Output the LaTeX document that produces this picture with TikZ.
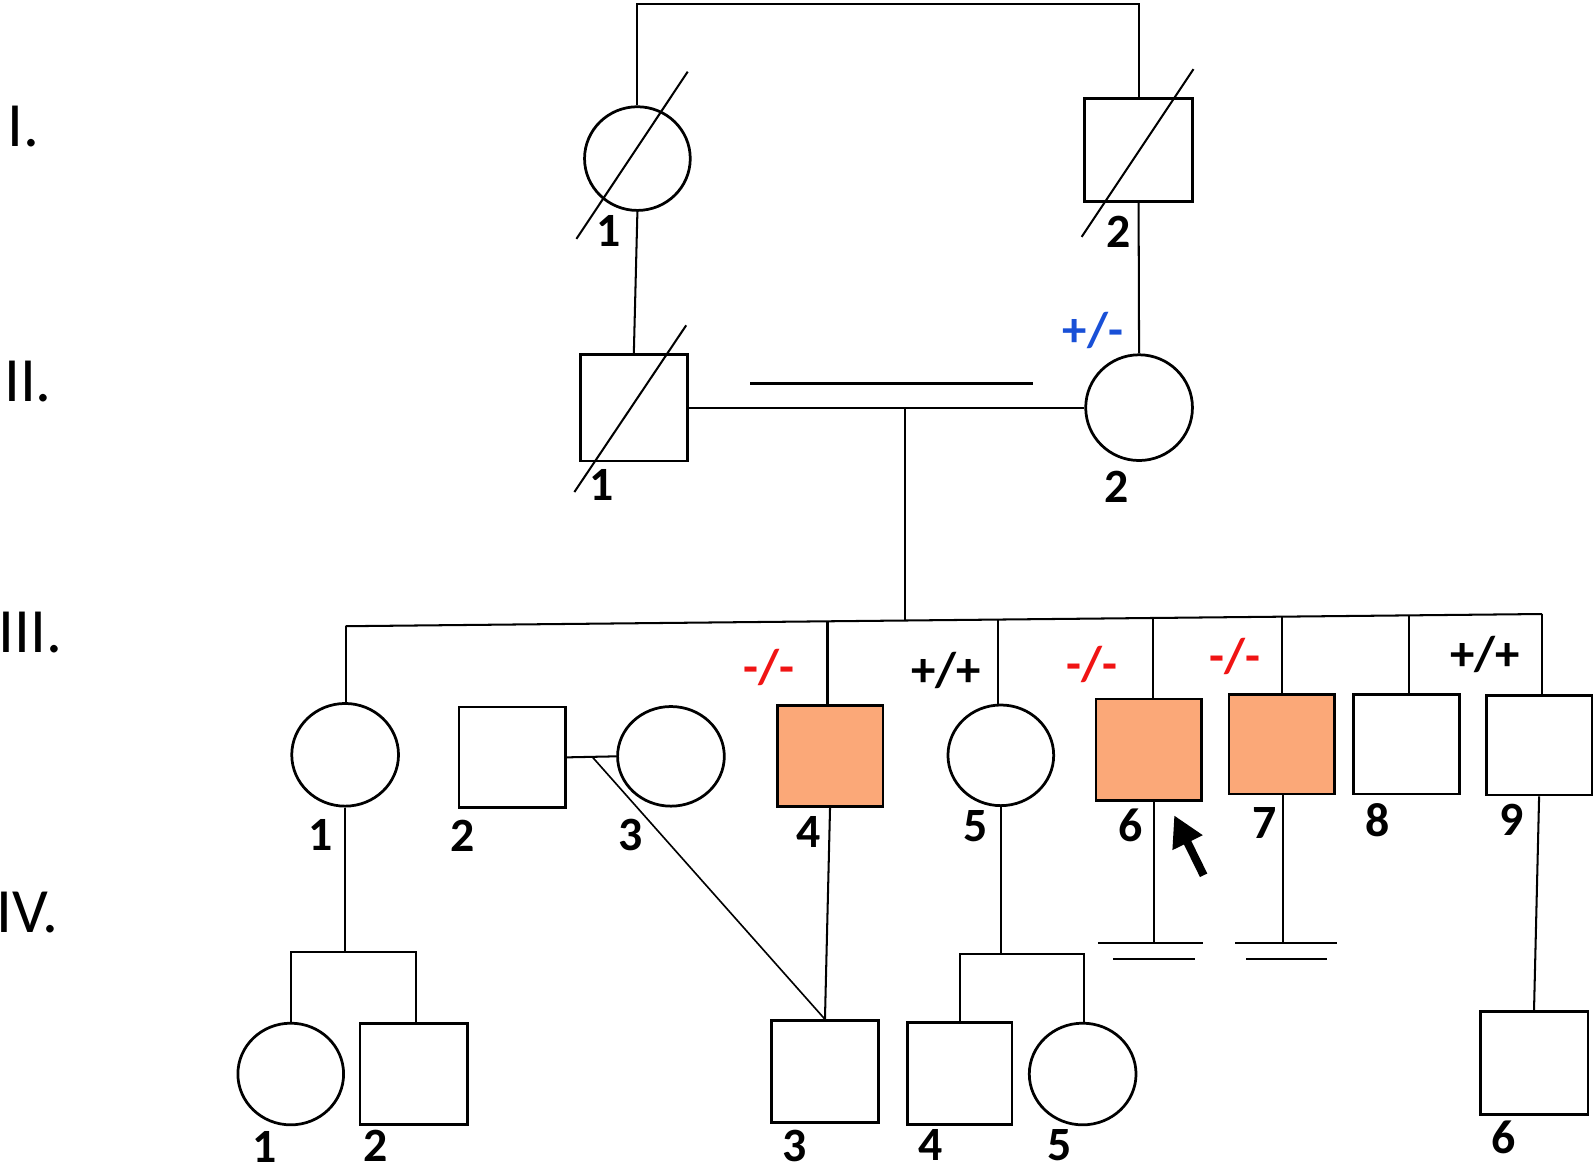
\documentclass[tikz,border=0pt]{standalone}
\usepackage{fontspec}
\setmainfont{Carlito}
\usetikzlibrary{shapes.geometric,arrows.meta}
\definecolor{aff}{RGB}{251,168,120}
\definecolor{gred}{RGB}{240,20,20}
\definecolor{gblue}{RGB}{25,80,215}
\begin{document}
\begin{tikzpicture}[x=1pt,y=-1pt,
  male/.style={draw, line width=2.7pt, rectangle, inner sep=0pt, minimum width=104pt, minimum height=100pt},
  female/.style={draw, line width=2.7pt, ellipse, inner sep=0pt, minimum width=104pt, minimum height=100pt},
  affected/.style={fill=aff},
  link/.style={line width=2pt},
  num/.style={font=\fontsize{47}{50}\selectfont\bfseries, inner sep=0pt},
  gen/.style={font=\fontsize{62}{64}\selectfont, inner sep=0pt},
  geno/.style={font=\fontsize{48}{50}\selectfont\bfseries, inner sep=0pt},
]
\useasboundingbox (0,0) rectangle (1568,1155);

% generation labels
\node[gen] (gI) at (23,124.5) {I.};
\node[gen] (gII) at (27.5,375.5) {II.};
\node[gen] (gIII) at (30,622) {III.};
\node[gen] (gIV) at (27,898) {IV.};

% Generation I
\node[female, minimum width=104pt, minimum height=102pt] (I1) at (627,156) {};
\node[male, minimum width=106pt, minimum height=101pt] (I2) at (1120,147.5) {};
% Generation II
\node[male, minimum width=105pt, minimum height=105pt] (II1) at (623.5,401) {};
\node[female, minimum width=105pt, minimum height=104pt] (II2) at (1120.5,401) {};
% Generation III
\node[female, minimum width=105pt, minimum height=101pt] (C1) at (339.5,742.5) {};
\node[male, minimum width=105pt, minimum height=99pt] (C2) at (504,745) {};
\node[female, minimum width=105pt, minimum height=98pt] (C3) at (660,744) {};
\node[male, affected, minimum width=104pt, minimum height=99pt] (C4) at (816.5,743.5) {};
\node[female, minimum width=104pt, minimum height=99pt] (C5) at (984.5,743) {};
\node[male, affected, minimum width=104pt, minimum height=100pt] (C6) at (1130,737.5) {};
\node[male, affected, minimum width=104pt, minimum height=98pt] (C7) at (1261,732) {};
\node[male, minimum width=104pt, minimum height=98pt] (C8) at (1383.5,732) {};
\node[male, minimum width=104pt, minimum height=98pt] (C9) at (1514,733) {};
% Generation IV
\node[female, minimum width=104pt, minimum height=100pt] (D1) at (286,1056.5) {};
\node[male, minimum width=106pt, minimum height=100pt] (D2) at (407,1056.5) {};
\node[male, minimum width=105pt, minimum height=100pt] (D3) at (811.5,1054) {};
\node[male, minimum width=103pt, minimum height=100pt] (D4) at (944,1056) {};
\node[female, minimum width=105pt, minimum height=100pt] (D5) at (1065,1056.5) {};
\node[male, minimum width=106pt, minimum height=101pt] (D6) at (1509,1045.5) {};

% deceased slashes
\draw[link] (567,235) -- (676.5,70.5);
\draw[link] (1064,233) -- (1174,68);
\draw[link] (565,484) -- (675,320);

% Gen I connections
\coordinate (topbar) at (870,4);
\draw[link] (I1.north) |- (topbar) -| (I2.north);
\draw[link] (I1.south) -- (II1.north);
\draw[link] (I2.south) -- (II2.north);

% Gen II marriage
\draw[link] (II1.east) -- (II2.west);
\coordinate (dblL) at (738,377);
\coordinate (dblR) at (1016,377);
\draw[line width=2.7pt] (dblL) -- (dblR);
\coordinate (IIm) at (890,401);

% sibship line III
\coordinate (s1) at (340,616);
\coordinate (s4) at (814,611.2);
\coordinate (sm) at (890,610.4);
\coordinate (s5) at (982,609.5);
\coordinate (s6) at (1134,607.9);
\coordinate (s7) at (1261,606.6);
\coordinate (s8) at (1386,605.3);
\coordinate (s9) at (1517,604);
\draw[link] (IIm) -- (sm);
\draw[link] (s1) -- (s9);
\draw[link] (s1) -- (s1 |- C1.north);
\draw[link] (s4) -- (s4 |- C4.north);
\draw[link] (s5) -- (s5 |- C5.north);
\draw[link] (s6) -- (s6 |- C6.north);
\draw[link] (s7) -- (s7 |- C7.north);
\draw[link] (s8) -- (s8 |- C8.north);
\draw[link] (s9) -- (s9 |- C9.north);

% III-2 x III-3
\draw[link] (C2.east) -- (C3.west);
\coordinate (m23) at (583,745);
\draw[line width=1.6pt] (m23) -- (D3.north);
\draw[link] (C4.south) -- (D3.north);

% III-1 offspring
\coordinate (d1L) at (287,936);
\coordinate (d1R) at (409,936);
\draw[link] (C1.south) -- (C1.south |- d1L);
\draw[link] (D1.north) |- (d1R) -- (d1R |- D2.north);

% III-5 offspring
\coordinate (d5L) at (945,938);
\coordinate (d5R) at (1066,938);
\draw[link] (C5.south) -- (C5.south |- d5L);
\draw[link] (D4.north) |- (d5R) -- (d5R |- D5.north);

% III-6, III-7 no offspring
\coordinate (n6) at (1135,928);
\coordinate (n7) at (1262,928);
\draw[link] (n6 |- C6.south) -- (n6);
\draw[link] (1080,928) -- (1183,928);
\draw[link] (1095,943) -- (1175,943);
\draw[link] (n7 |- C7.south) -- (n7);
\draw[link] (1215,928) -- (1315,928);
\draw[link] (1226,943) -- (1305,943);

% III-9 offspring
\draw[link] (C9.south) -- (D6.north);

% proband arrow
\coordinate (arrT) at (1184,861);
\coordinate (arrH) at (1155,802);
\draw[line width=8pt, -{Triangle[length=30pt,width=31pt]}] (arrT) -- (arrH);

% number labels
\node[num] (lI1) at (599,227) {1};
\node[num] (lI2) at (1100,228) {2};
\node[num] (lII1) at (592,477) {1};
\node[num] (lII2) at (1098,479) {2};
\node[num] (lC1) at (315,821) {1};
\node[num] (lC2) at (455,822) {2};
\node[num] (lC3) at (620,821) {3};
\node[num] (lC4) at (795,818) {4};
\node[num] (lC5) at (960,813) {5};
\node[num] (lC6) at (1112,812) {6};
\node[num] (lC7) at (1244,810) {7};
\node[num] (lC8) at (1355,807) {8};
\node[num] (lC9) at (1487,806) {9};
\node[num] (lD1) at (260.5,1128) {1};
\node[num] (lD2) at (369,1127) {2};
\node[num] (lD3) at (782,1127) {3};
\node[num] (lD4) at (915,1126) {4};
\node[num] (lD5) at (1042.5,1126) {5};
\node[num] (lD6) at (1479,1119) {6};

% genotypes
\node[geno, text=gblue] (gtII2) at (1075,325) {+/-};
\node[geno, text=gred] (gtC4) at (756,657) {-/-};
\node[geno] (gtC5) at (931,660) {+/+};
\node[geno, text=gred] (gtC6) at (1074,654) {-/-};
\node[geno, text=gred] (gtC7) at (1215,646) {-/-};
\node[geno] (gtC9) at (1461,644) {+/+};
\end{tikzpicture}
\end{document}
